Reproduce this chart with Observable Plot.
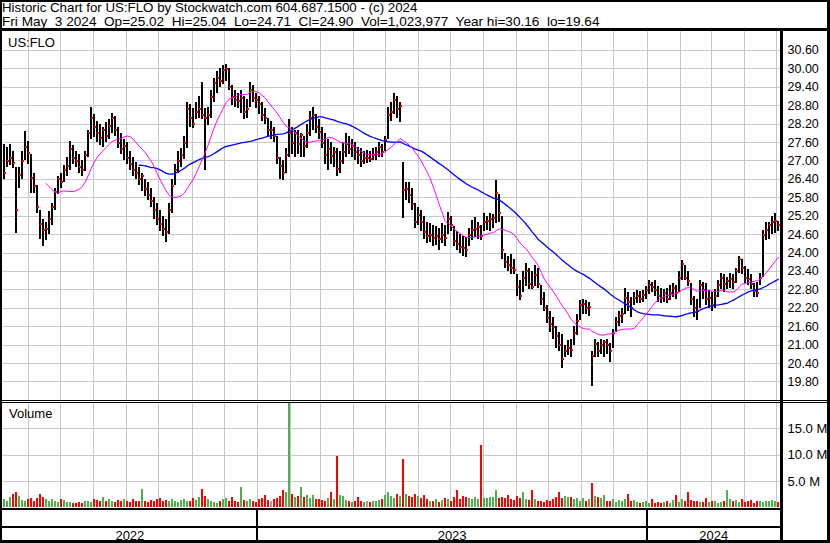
<!DOCTYPE html>
<html><head><meta charset="utf-8">
<script src="https://cdn.jsdelivr.net/npm/d3@7"></script>
<script src="https://cdn.jsdelivr.net/npm/@observablehq/plot@0.6"></script>
<style>
html,body{margin:0;padding:0;background:#fff;}
#chart{position:relative;width:830px;height:543px;overflow:hidden;background:#fff;font-family:Arial,"Liberation Sans",sans-serif;}
#chart svg{position:absolute;left:0;}
.hdr{position:absolute;left:2px;white-space:pre;font-size:13.3px;line-height:14px;color:#000;font-family:Arial,"Liberation Sans",sans-serif;z-index:5;}
</style></head><body>
<div id="chart"></div>
<script>
// ---------- data ----------
const SP2 = "\x20\x20"; // double space used between header fields
const headerLine1 = "Historic Chart for US:FLO by Stockwatch.com 604.687.1500 - (c) 2024";
const headerFields = ["Fri May" + SP2 + "3 2024", "Op=25.02", "Hi=25.04", "Lo=24.71", "Cl=24.90", "Vol=1,023,977", "Year hi=30.16", "lo=19.64"];
const headerLine2 = headerFields.join(SP2);
const symbolLabel = "US:FLO";
const volumeLabel = "Volume";
const firstDate = "2022-05-09";
const lastDate = "2024-05-03";
const priceTicks = [19.8, 20.4, 21.0, 21.6, 22.2, 22.8, 23.4, 24.0, 24.6, 25.2, 25.8, 26.4, 27.0, 27.6, 28.2, 28.8, 29.4, 30.0, 30.6];
const volumeTicks = [5, 10, 15];
const yearLabels = ["2022", "2023", "2024"];

const high = [
27.55,27.45,27.55,27.30,26.80,26.80,27.30,27.97,27.65,27.20,
26.60,26.20,25.40,25.10,25.00,25.35,25.60,26.10,26.50,26.60,
26.85,27.10,27.65,27.50,27.30,27.20,27.00,27.30,28.00,28.73,
28.50,28.30,28.20,28.10,28.25,28.35,28.56,28.45,28.10,27.90,
27.70,27.60,27.30,27.10,26.95,26.80,26.60,26.40,26.30,26.10,
25.80,25.60,25.40,25.20,25.10,25.60,26.40,26.90,27.30,27.40,
27.80,28.90,28.85,28.70,28.90,29.10,29.55,28.70,28.75,29.30,
29.70,29.90,30.00,30.10,30.16,30.00,29.45,29.30,29.20,29.30,
29.10,29.00,29.55,29.45,29.20,29.10,28.90,28.70,28.40,28.30,
28.10,27.80,27.10,27.00,27.40,28.35,28.10,28.00,28.00,27.90,
27.80,28.20,28.60,28.75,28.50,28.35,28.10,27.90,27.70,27.60,
27.45,27.40,27.30,27.60,27.90,27.80,27.70,27.60,27.45,27.40,
27.30,27.35,27.30,27.40,27.45,27.60,27.55,27.80,28.75,28.90,
29.20,29.10,28.90,26.95,26.30,26.30,26.10,25.60,25.50,25.40,
25.20,25.00,24.95,24.90,24.85,24.80,24.95,24.90,25.33,25.20,
24.85,24.70,24.60,24.55,24.50,24.80,25.05,25.15,25.00,24.90,
25.30,25.20,25.30,25.25,26.37,25.90,25.20,24.00,23.90,23.95,
23.80,23.30,23.10,23.40,23.65,23.50,23.40,23.60,23.50,22.95,
22.70,22.30,22.10,21.90,21.60,21.40,21.35,21.00,21.15,21.20,
21.60,22.00,22.45,22.50,22.45,22.40,20.80,21.20,21.10,21.20,
21.15,21.20,21.05,21.50,21.90,22.10,22.20,22.85,22.70,22.55,
22.70,22.78,22.75,22.78,22.90,23.10,23.05,23.10,22.90,22.85,
22.80,22.85,22.95,23.00,22.95,23.40,23.75,23.60,23.40,23.00,
22.60,22.50,23.10,23.05,23.00,22.78,22.70,22.80,23.10,23.35,
23.30,23.20,23.35,23.30,23.50,23.90,23.80,23.55,23.45,23.30,
23.00,23.05,23.35,24.75,25.00,25.00,25.20,25.30,25.04];

const low = [
26.40,26.80,26.85,26.75,24.65,26.10,26.40,27.00,26.90,25.95,
25.95,25.30,24.45,24.20,24.40,24.60,24.90,25.40,25.90,26.10,
26.30,26.50,26.70,26.90,26.80,26.60,26.50,26.65,27.10,27.70,
27.75,27.60,27.50,27.45,27.60,27.70,27.90,27.80,27.40,27.20,
27.00,26.90,26.70,26.50,26.40,26.20,26.00,25.85,25.70,25.50,
25.10,24.90,24.70,24.55,24.35,24.60,25.30,26.20,26.60,26.80,
27.05,27.40,28.10,28.05,28.35,28.40,28.35,26.70,28.15,28.40,
28.90,29.20,29.40,29.50,29.60,29.30,28.80,28.75,28.70,28.55,
28.35,28.40,28.75,28.90,28.70,28.50,28.30,28.20,27.80,27.70,
27.60,26.90,26.40,26.37,26.60,27.10,27.20,27.10,27.20,27.10,
27.10,27.40,27.80,28.00,27.90,27.70,27.40,26.90,26.70,26.90,
26.80,26.50,26.60,26.90,27.10,27.20,27.10,27.00,26.90,26.80,
26.90,26.93,26.95,27.00,27.00,27.10,27.10,27.30,27.70,28.30,
28.50,28.40,28.25,25.13,25.70,25.60,25.40,24.80,24.90,24.70,
24.45,24.30,24.35,24.20,24.25,24.10,24.30,24.20,24.60,24.70,
24.20,24.10,24.00,23.90,23.85,24.20,24.40,24.50,24.45,24.40,
24.70,24.75,24.70,24.80,24.95,25.00,23.80,23.50,23.40,23.30,
23.30,22.60,22.45,22.70,22.90,22.80,22.80,22.90,22.85,22.30,
22.10,21.70,21.40,21.20,20.90,20.80,20.25,20.60,20.65,20.60,
21.00,21.30,21.80,22.00,22.00,21.95,19.64,20.60,20.60,20.70,
20.60,20.70,20.45,20.90,21.40,21.60,21.70,22.00,22.10,21.90,
22.30,22.35,22.35,22.40,22.50,22.65,22.70,22.60,22.40,22.35,
22.40,22.35,22.45,22.55,22.50,22.70,23.10,23.10,22.90,22.30,
21.90,21.80,22.20,22.50,22.30,22.20,22.10,22.20,22.55,22.80,
22.70,22.80,22.85,22.80,23.00,23.35,23.30,23.00,22.95,22.80,
22.55,22.55,22.95,23.20,24.40,24.45,24.60,24.65,24.71];

const close = [
26.60,27.00,27.10,26.95,25.40,26.55,27.00,27.45,27.25,26.45,
26.20,25.50,24.95,24.75,24.80,25.10,25.50,26.00,26.40,26.30,
26.70,26.85,27.40,27.10,27.00,26.80,26.70,27.20,27.90,28.40,
28.10,27.90,27.75,28.00,27.80,28.15,28.40,28.00,27.60,27.40,
27.50,27.10,26.90,26.70,26.60,26.40,26.50,26.10,25.90,25.70,
25.40,25.10,24.95,24.80,24.70,25.40,26.20,26.70,27.00,27.20,
27.60,28.70,28.40,28.20,28.60,28.70,28.50,28.40,28.50,29.10,
29.55,29.70,29.60,29.95,30.00,29.40,29.10,29.00,28.95,29.05,
28.60,28.70,29.30,29.05,29.00,28.85,28.50,28.40,28.00,28.00,
27.80,27.10,26.85,26.60,27.20,27.90,27.60,27.90,27.55,27.85,
27.50,27.90,28.40,28.50,28.10,27.95,27.60,27.20,27.40,27.15,
27.30,26.75,27.00,27.30,27.55,27.40,27.50,27.30,27.20,27.00,
27.10,27.10,27.05,27.20,27.30,27.45,27.30,27.70,28.50,28.60,
29.00,28.70,28.80,26.05,26.10,25.90,25.60,25.00,25.25,25.00,
24.70,24.55,24.60,24.50,24.55,24.45,24.60,24.50,25.10,24.90,
24.40,24.30,24.20,24.15,24.10,24.60,24.75,24.80,24.85,24.55,
25.00,25.05,25.10,25.15,25.95,25.30,24.10,23.70,23.60,23.50,
23.45,22.90,22.60,23.20,23.40,23.00,22.90,23.30,23.00,22.50,
22.20,21.90,21.70,21.60,21.30,21.00,20.55,20.80,20.90,20.85,
21.40,21.80,22.30,22.35,22.20,22.25,20.65,21.05,20.80,21.00,
21.10,21.00,20.80,21.40,21.75,21.95,22.00,22.55,22.40,22.20,
22.55,22.60,22.50,22.65,22.80,22.95,22.90,22.80,22.60,22.55,
22.70,22.50,22.70,22.85,22.70,23.20,23.65,23.20,23.10,22.50,
22.20,22.10,22.95,22.80,22.50,22.55,22.30,22.60,22.95,23.20,
23.00,23.10,23.15,23.05,23.40,23.82,23.50,23.20,23.15,23.00,
22.75,22.70,23.20,24.60,24.75,24.90,25.00,25.05,24.90];

// volume in millions of shares
const volume = [
1.5,1.3,2.0,2.6,3.0,2.1,1.4,1.2,1.6,1.8,
1.3,1.7,2.5,1.9,1.6,1.3,1.5,1.2,1.1,1.6,
1.4,1.0,1.1,0.9,0.8,1.0,0.9,1.2,1.3,1.1,
1.6,1.4,1.3,1.9,1.2,1.5,1.3,1.0,1.4,1.2,
1.6,1.3,1.1,1.5,1.3,1.2,3.5,1.3,1.1,1.4,
1.2,1.5,1.7,1.3,1.4,1.2,1.5,1.2,1.1,1.4,
1.6,1.3,1.2,1.7,1.4,2.0,3.5,2.2,1.6,1.3,
1.1,0.9,1.3,1.5,1.8,1.3,2.0,1.2,1.0,3.9,
1.4,1.2,1.5,1.3,1.1,1.6,1.8,2.3,1.4,1.2,
1.5,1.8,2.1,3.3,3.0,19.9,2.6,2.0,2.2,3.9,
2.0,2.4,1.8,2.3,1.6,1.5,1.4,1.3,1.7,3.0,
1.6,9.7,2.4,2.1,1.4,1.2,1.0,1.2,2.0,1.3,
1.1,1.2,1.0,1.3,1.2,1.4,1.6,2.4,3.0,2.1,
1.8,2.5,2.2,9.2,2.6,2.2,2.0,2.6,2.2,1.8,
2.4,1.5,1.2,1.3,1.6,1.1,1.4,1.8,1.5,1.2,
1.9,3.2,1.6,2.1,1.9,1.7,1.5,1.9,1.6,11.9,
1.8,1.7,1.9,2.0,3.3,1.8,2.0,1.7,2.4,1.6,
1.4,2.2,1.8,2.9,1.6,1.4,3.3,1.6,1.2,1.3,
1.1,1.4,1.3,1.6,1.9,2.9,1.8,2.1,1.9,2.0,
1.6,1.8,1.3,1.7,1.2,1.5,4.7,2.1,1.9,1.7,
2.3,1.2,1.3,1.5,1.1,1.4,1.3,1.6,2.6,1.2,
1.4,1.1,0.9,1.0,1.3,0.8,1.5,0.9,1.0,0.8,
1.1,1.2,0.9,1.4,2.3,1.1,1.6,1.2,3.0,1.4,
1.2,1.3,1.0,1.1,1.7,1.0,1.2,1.3,0.9,1.0,
1.2,3.2,1.6,1.2,1.4,1.1,1.5,1.0,1.2,1.4,
0.9,1.2,1.3,1.1,1.3,1.2,1.4,1.3,1.02];

const maShort = 15;  // bars in the magenta average
const maLong = 46;   // bars in the blue average

// ---------- build ----------
const n = close.length;
const t0 = new Date(firstDate + "T00:00:00Z").getTime();
const t1 = new Date(lastDate + "T00:00:00Z").getTime();
const dates = d3.range(n).map(i => new Date(t0 + (t1 - t0) * i / (n - 1)));
const bars = close.map((c, i) => ({
  date: dates[i], high: high[i], low: low[i], close: c, volume: volume[i],
  dir: i === 0 ? 1 : Math.sign(Math.round((c - close[i - 1]) * 100))
}));
function sma(k) {
  const out = [];
  for (let i = k - 1; i < n; i++) out.push({date: dates[i], v: d3.mean(close.slice(i - k + 1, i + 1))});
  return out;
}
const maA = sma(maShort), maB = sma(maLong);

const xDomain = [new Date(Date.UTC(2022, 4, 7, 12)), new Date(Date.UTC(2024, 4, 5))];
const monthStarts = d3.utcMonth.range(new Date(xDomain[0].getTime() + 864e5), xDomain[1]);
const yearStarts = d3.utcYear.range(xDomain[0], xDomain[1]);
const yearBounds = [xDomain[0], ...yearStarts, xDomain[1]];
const yearMarks = yearLabels.map((y, i) => ({label: y, date: new Date((yearBounds[i].getTime() + yearBounds[i + 1].getTime()) / 2)}));

const FONT = "Arial, 'Liberation Sans', sans-serif";
const GRID = "#c8c8c8";
const volColor = d => d.dir > 0 ? "#4db04d" : d.dir < 0 ? "#ff0000" : "#a0a0a0";

const priceChart = Plot.plot({
  width: 830, height: 369, marginLeft: 2, marginRight: 50, marginTop: 0, marginBottom: 0,
  style: {fontFamily: FONT, background: "transparent", overflow: "visible"},
  x: {type: "utc", domain: xDomain, axis: null},
  y: {domain: [19.197, 31.219], axis: null},
  marks: [
    Plot.ruleY(priceTicks, {stroke: GRID, strokeWidth: 1, shapeRendering: "crispEdges"}),
    Plot.ruleX(monthStarts, {stroke: GRID, strokeWidth: 1, shapeRendering: "crispEdges"}),
    Plot.ruleX(bars, {x: "date", y1: "low", y2: "high", stroke: "#000", strokeWidth: 2, shapeRendering: "crispEdges"}),
    Plot.dot(bars, {x: "date", y: "close", symbol: "square", r: 1.13, fill: "#ff0000", dx: 1, shapeRendering: "crispEdges"}),
    Plot.line(maB, {x: "date", y: "v", stroke: "#0000ff", strokeWidth: 1.3}),
    Plot.line(maA, {x: "date", y: "v", stroke: "#ff00ff", strokeWidth: 1}),
    Plot.text(priceTicks, {y: d => d, text: d => d.toFixed(2), frameAnchor: "right", textAnchor: "start", dx: 7, fontSize: 12.5, fill: "#000"})
  ]
});
priceChart.style.top = "31px";

const volumeChart = Plot.plot({
  width: 830, height: 106, marginLeft: 2, marginRight: 50, marginTop: 0, marginBottom: 0.65,
  style: {fontFamily: FONT, background: "transparent", overflow: "visible"},
  x: {type: "utc", domain: xDomain, axis: null},
  y: {domain: [0, 20], axis: null},
  marks: [
    Plot.ruleY(volumeTicks, {stroke: GRID, strokeWidth: 1, shapeRendering: "crispEdges"}),
    Plot.ruleX(monthStarts, {stroke: GRID, strokeWidth: 1, shapeRendering: "crispEdges"}),
    Plot.ruleX(bars, {x: "date", y1: 0, y2: "volume", stroke: volColor, strokeWidth: 2, shapeRendering: "crispEdges"}),
    Plot.text(volumeTicks, {y: d => d, text: d => d.toFixed(1) + " M", frameAnchor: "right", textAnchor: "start", dx: 7, fontSize: 13, fill: "#000"})
  ]
});
volumeChart.style.top = "402px";

const timeChart = Plot.plot({
  width: 830, height: 30, marginLeft: 2, marginRight: 50, marginTop: 0, marginBottom: 0,
  style: {fontFamily: FONT, background: "transparent", overflow: "visible"},
  x: {type: "utc", domain: xDomain, axis: null},
  marks: [
    Plot.ruleX(yearStarts, {stroke: "#000", strokeWidth: 1.5, shapeRendering: "crispEdges"}),
    Plot.text(yearMarks, {x: "date", text: "label", frameAnchor: "top", dy: 20, fontSize: 13, fill: "#000"})
  ]
});
timeChart.style.top = "510px";

const chart = document.getElementById("chart");
chart.append(priceChart, volumeChart, timeChart);

// frame and panel labels
const overlay = d3.create("svg").attr("width", 830).attr("height", 543)
  .style("top", "0px").style("pointer-events", "none").style("font-family", FONT);
const rects = [
  [0, 0, 830, 2], [0, 0, 2, 543], [827, 0, 3, 543], [0, 540, 830, 3],
  [0, 28, 830, 3], [780, 28, 3, 515],
  [0, 399.5, 830, 1], [0, 401.5, 830, 1],
  [0, 508, 780, 2], [0, 526, 780, 1.5]
];
overlay.selectAll("rect").data(rects).join("rect")
  .attr("x", d => d[0]).attr("y", d => d[1]).attr("width", d => d[2]).attr("height", d => d[3])
  .attr("fill", "#000").attr("shape-rendering", "crispEdges");
const texts = [
  [8, 46.5, 13, symbolLabel], [9, 417.7, 13, volumeLabel]
];
overlay.selectAll("text").data(texts).join("text")
  .attr("x", d => d[0]).attr("y", d => d[1]).attr("font-size", d => d[2])
  .attr("fill", "#000").text(d => d[3]);
chart.append(overlay.node());

// header lines (HTML, so the double spaces are kept)
[[1.1, headerLine1, 13.3], [14.9, headerLine2, 13.6]].forEach(([top, s, fs]) => {
  const div = document.createElement("div");
  div.className = "hdr";
  div.style.top = top + "px";
  div.style.fontSize = fs + "px";
  div.textContent = s;
  chart.append(div);
});
</script></body></html>
